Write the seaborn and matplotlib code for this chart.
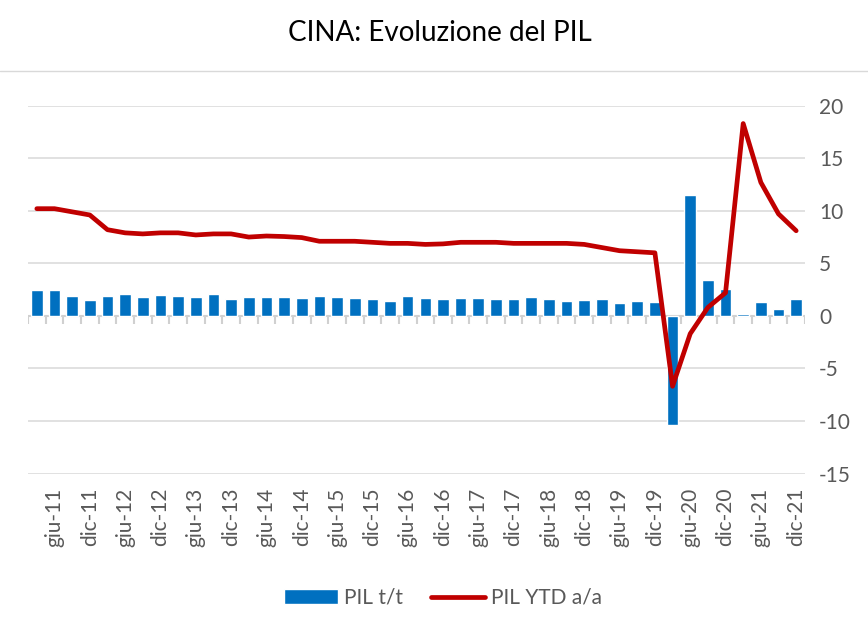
import numpy as np
import pandas as pd
import matplotlib
matplotlib.use("Agg")
import matplotlib.pyplot as plt
import seaborn as sns
from matplotlib.lines import Line2D

# ---- data ----
months = ["mar", "giu", "set", "dic"]
years = list(range(11, 22))
quarters = [f"{m}-{y:02d}" for y in years for m in months]

pil_tt = [2.5, 2.5, 1.9, 1.5, 1.9, 2.1, 1.8, 2.0, 1.9, 1.8, 2.1, 1.6,
          1.8, 1.8, 1.8, 1.7, 1.9, 1.8, 1.7, 1.6, 1.4, 1.9, 1.7, 1.6,
          1.7, 1.7, 1.6, 1.6, 1.8, 1.6, 1.4, 1.5, 1.6, 1.2, 1.4, 1.3,
          -10.4, 11.5, 3.4, 2.6, 0.2, 1.3, 0.7, 1.6]
pil_ytd = [10.2, 10.2, 9.9, 9.6, 8.2, 7.9, 7.8, 7.9, 7.9, 7.7, 7.8, 7.8,
           7.5, 7.6, 7.55, 7.45, 7.1, 7.1, 7.1, 7.0, 6.9, 6.9, 6.8, 6.85,
           7.0, 7.0, 7.0, 6.9, 6.9, 6.9, 6.9, 6.8, 6.5, 6.2, 6.1, 6.0,
           -6.7, -1.7, 0.8, 2.2, 18.3, 12.7, 9.7, 8.1]
yticks = [-15, -10, -5, 0, 5, 10, 15, 20]

title = "CINA: Evoluzione del PIL"
label_tt = "PIL t/t"
label_ytd = "PIL YTD a/a"

df = pd.DataFrame({"q": quarters, "pos": np.arange(len(quarters)),
                   "tt": pil_tt, "ytd": pil_ytd})

sns.set_theme(style="white")
plt.rcParams["font.family"] = ["Lato", "DejaVu Sans"]

W, H = 868, 634
fig = plt.figure(figsize=(W / 100, H / 100), dpi=100)
ax = fig.add_axes([28 / W, 1 - 473.5 / H, 777 / W, (473.5 - 105.7) / H])

blue = "#0070C0"
red = "#C00000"
grid = "#D9D9D9"
axis_col = "#D0D0D0"
txt = "#595959"

sns.barplot(data=df, x="q", y="tt", color=blue, width=0.66, ax=ax,
            saturation=1, label=label_tt, zorder=3)
sns.lineplot(data=df, x="pos", y="ytd", color=red, lw=3.4, ax=ax,
             label=label_ytd, zorder=4, solid_capstyle="round",
             solid_joinstyle="round")

n = len(quarters)
ax.set_xlim(-0.5, n - 0.5)
ax.set_ylim(-15, 20)
ax.set_xlabel("")
ax.set_ylabel("")

# y axis on the right
ax.yaxis.tick_right()
ax.set_yticks(yticks)
ax.set_yticklabels([str(v) for v in yticks])
ax.tick_params(axis="y", length=0, pad=10, labelsize=15, labelcolor=txt)
ax.grid(axis="y", color=grid, lw=1.1, zorder=0)
ax.set_axisbelow(True)

for s in ["left", "right", "top", "bottom"]:
    ax.spines[s].set_visible(False)

# zero axis line with category-boundary tick marks
ax.axhline(0, color=axis_col, lw=1.5, zorder=2)
ax.vlines(np.arange(n + 1) - 0.5, -0.8, 0, color=axis_col, lw=1.5, zorder=2)

ax.set_xticks([])
sec = ax.secondary_xaxis("bottom")
sec.set_xticks(df["pos"][1::2], quarters[1::2], rotation=90)
sec.tick_params(length=0, pad=10, labelsize=15, labelcolor=txt)
sec.spines["bottom"].set_visible(False)

if ax.get_legend():
    ax.get_legend().remove()
handles, labels = ax.get_legend_handles_labels()
order = [labels.index(label_tt), labels.index(label_ytd)]
leg = fig.legend([handles[i] for i in order], [labels[i] for i in order],
                 loc="center", bbox_to_anchor=(443 / W, 1 - 598 / H),
                 ncol=2, frameon=False, fontsize=15, handlelength=2.6,
                 handletextpad=0.3, columnspacing=1.3, labelcolor=txt)

fig.text(440 / W, 1 - 33 / H, title, ha="center", va="center",
         fontsize=20, color="black")
fig.add_artist(Line2D([0, 1], [1 - 71 / H] * 2, transform=fig.transFigure,
                      color=grid, lw=1))

fig.savefig("out.png", dpi=100)
